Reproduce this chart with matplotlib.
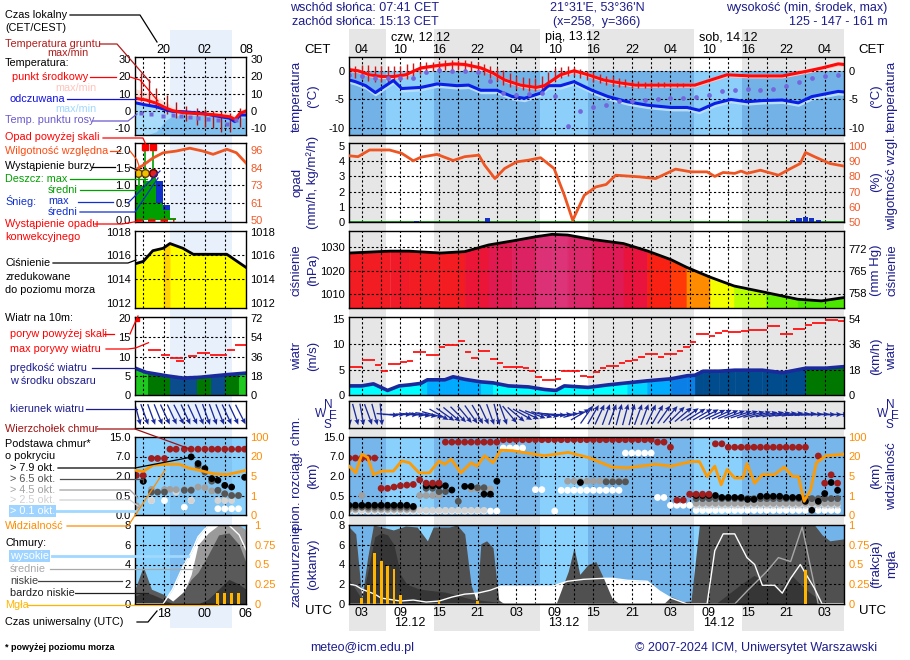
import numpy as np
import matplotlib
matplotlib.use("Agg")
import matplotlib.pyplot as plt
from matplotlib.colors import LinearSegmentedColormap, Normalize
from matplotlib.lines import Line2D

nan = np.nan

# ---------- main meteogram, hours after 00 UTC 12.12 ----------
day_spans = [(6.7, 14.2), (30.7, 38.2), (54.7, 62.2)]
tick_h = [3, 9, 15, 21, 27, 33, 39, 45, 51, 57, 63, 69, 75]
cet_labels = ['04', '10', '16', '22', '04', '10', '16', '22', '04', '10', '16', '22', '04']
utc_labels = ['03', '09', '15', '21', '03', '09', '15', '21', '03', '09', '15', '21', '03']
date_top = ['czw, 12.12', 'pią, 13.12', 'sob, 14.12']
date_bottom = ['12.12', '13.12', '14.12']

temp_h = [1, 2.4, 4.2, 6.1, 7.9, 9.8, 12.2, 14.7, 17.2, 19.0, 21.5, 23.4, 25.2, 27.7, 30.1, 31.4,
          33.9, 36.0, 38.2, 40.6, 43.1, 45.6, 50.5, 54.8, 57.3, 59.8, 63.5, 68.4, 72.1, 74.6, 77.1, 78]
temp = [0.2, 0.0, -0.7, -1.0, -1.0, -0.7, 0.5, 0.9, 1.2, 1.1, 0.5, -0.4, -1.6, -2.5, -2.9, -2.6,
        -0.7, 0.0, -0.7, -1.6, -2.1, -2.5, -2.5, -2.5, -1.6, -0.7, -0.9, -0.9, -0.1, 0.5, 1.2, 1.1]
feel_h = [1, 2.0, 3.6, 5.1, 6.7, 7.9, 9.2, 12.2, 14.7, 17.8, 19.6, 21.5, 24.0, 26.4, 28.3, 30.8, 32.0,
          33.9, 36.0, 38.8, 41.3, 44.3, 47.4, 51.1, 53.6, 55.5, 57.9, 60.4, 62.9, 65.3, 68.4, 70.9, 73.0, 77.1, 78]
feel = [-1.6, -1.9, -2.6, -3.8, -2.6, -1.7, -3.1, -2.9, -2.3, -2.6, -2.5, -3.4, -3.4, -4.5, -4.8, -3.9, -2.6,
        -2.6, -1.9, -3.4, -4.5, -5.4, -6.0, -6.4, -6.4, -6.9, -5.7, -5.0, -5.4, -5.2, -5.1, -5.6, -4.5, -3.6, -3.7]
dew_h = list(range(1, 78, 2))
dew = [-0.8, -1.0, -1.3, -1.3, -1.2, -1.2, -0.2, 0.1, 0.0, -0.1, -0.3, -1.8, -3.8, -4.2, -4.0, -3.9, -4.4,
       -9.6, -7.0, -6.3, -6.0, -5.3, -5.2, -5.1, -5.0, -4.8, -4.7, -4.6, -4.3, -3.6, -3.3, -3.2, -3.3,
       -3.2, -2.6, -2.0, -1.2, -0.9, -0.8]
ground_h = list(range(1, 54))
ground_max = [0.8, 0.9, 1.0, 1.0, 0.9, 0.8, 0.8, 0.8, 0.9, 1.1, 1.3, 1.4, 1.5, 1.6, 1.7, 1.8, 1.8, 1.8,
              1.8, 1.7, 1.5, 1.2, 0.8, 0.5, 0.2, -0.4, -0.9, -1.1, -1.2, -1.2, -1.0, -0.3, 0.4, 0.7,
              0.8, 0.6, 0.3, 0.0, -0.3, -0.6, -0.9, -1.0, -1.2, -1.5, -1.7, -1.8, -1.9, -2.0, -2.0,
              -2.0, -2.1, -2.1, -2.1]
ground_min = [-0.8, -1.2, -1.5, -1.7, -1.9, -2.0, -2.0, -1.9, -1.8, -1.4, -1.0, -0.6, -0.3, -0.1, 0.0,
              0.1, 0.2, 0.2, 0.1, -0.1, -0.3, -0.7, -1.2, -1.8, -2.4, -2.8, -3.2, -3.4, -3.6, -3.6, -3.5,
              -2.8, -1.8, -1.2, -0.9, -1.0, -1.2, -1.6, -2.0, -2.2, -2.4, -2.6, -2.8, -2.9, -3.0, -3.0,
              -3.0, -3.0, -2.9, -2.9, -2.9, -2.9, -2.9]

hum_h = [1, 2.4, 4.2, 7.3, 9.2, 11.0, 12.2, 14.7, 17.2, 19.0, 21.2, 22.1, 23.7, 25.2, 27.1, 28.9, 30.8,
         32.9, 34.5, 35.8, 37.6, 39.4, 41.0, 42.5, 46.2, 48.7, 51.8, 54.2, 56.7, 57.9, 59.2, 61.0, 62.0,
         62.9, 65.0, 67.8, 69.7, 71.2, 72.0, 73.4, 75.8, 78]
hum = [93.6, 93.0, 97.4, 97.4, 95.2, 90.3, 92.7, 94.5, 90.5, 93.0, 94.0, 87.4, 78.6, 85.2, 89.6, 90.7, 92.3,
       85.2, 67.6, 51.1, 67.6, 73.1, 74.7, 80.8, 79.7, 78.6, 84.8, 83.0, 83.0, 80.0, 82.6, 82.0, 83.5,
       82.0, 84.1, 80.8, 85.2, 88.5, 95.8, 93.0, 88.5, 86.8]
rain_h = [11.5, 22.5, 70, 71, 72, 73, 74]
rain = [0.08, 0.25, 0.12, 0.25, 0.35, 0.25, 0.1]

pres_h = [1, 7.3, 10.3, 15.3, 19.0, 22.7, 26.4, 30.1, 32.6, 35.0, 38.7, 43.7, 47.4, 51.1, 53.5, 57.2,
          60.9, 65.9, 70.8, 74.5, 78]
pres = [1027.4, 1028.2, 1028.2, 1027.4, 1028.0, 1030.8, 1032.5, 1034.3, 1035.3, 1035.0, 1033.2, 1031.4,
        1028.3, 1024.6, 1021.4, 1017.2, 1013.5, 1010.7, 1007.9, 1007.2, 1008.6]

wind_h = [1, 3.0, 4.8, 7.0, 8.8, 10.4, 12.2, 13.2, 15.9, 17.2, 19.0, 21.5, 23.4, 25.8, 28.9, 31.4, 33.2,
          34.5, 38.2, 41.3, 44.3, 47.4, 51.1, 53.6, 54.8, 56.1, 58.6, 61.0, 65.3, 68.4, 72.1, 75.2, 78]
wind = [1.8, 1.8, 2.2, 0.9, 1.8, 2.0, 2.3, 3.0, 3.0, 3.6, 3.1, 2.6, 2.4, 1.8, 1.6, 1.1, 0.9,
        1.8, 1.5, 2.0, 2.4, 2.8, 3.2, 3.8, 3.9, 4.7, 4.7, 4.9, 4.9, 4.4, 5.3, 5.3, 5.6]
gust_h = list(range(1, 78))
gust = [5.6, 5.6, 6.9, 6.9, 5.9, 4.8, 6.1, 6.1, 6.6, 6.8, 8.4, 8.4, 7.9, 7.9, 9.4, 9.9, 9.9, 10.7, 8.4, 7.4,
        8.7, 8.7, 7.2, 6.4, 5.5, 5.5, 5.5, 5.3, 4.7, 3.5, 3.0, 3.0, 3.1, 4.7, 4.7, 4.7, 3.8, 3.5, 4.5, 5.3,
        5.8, 5.8, 6.3, 6.7, 7.0, 7.6, 8.1, 8.1, 7.6, 8.1, 8.1, 8.6, 9.4, 10.4, 12.0, 12.0, 11.6, 12.2, 12.6,
        12.4, 12.4, 12.6, 12.8, 12.8, 12.8, 13.6, 13.6, 12.0, 12.0, 13.0, 13.0, 13.9, 14.3, 14.3, 14.8, 14.8, 14.6]
wdir_h = list(range(1, 78))
wdir = [355, 345, 350, 340, 345, 355,
        275, 270, 270, 272, 275, 278, 280, 285,
        300, 305, 310, 315, 320, 325, 330, 335, 340, 345, 340,
        320, 310, 300, 295, 290, 285, 280, 275,
        270, 265, 255, 240,
        215, 210, 205, 200, 200, 195, 195, 195, 200, 200, 205, 210, 215,
        220, 225, 230, 235, 238, 240, 242, 245, 245, 248,
        250, 252, 252, 255, 255, 258, 258, 260, 262, 262, 265, 265, 268, 268, 270, 270, 270]

# cloud base / top dots: (first hour, last hour, km)
top_runs = [(1, 5, 6.6), (6, 7, 1.05), (8, 8, 1.15), (9, 9, 1.25), (10, 10, 1.3), (11, 11, 1.35), (12, 12, 1.7),
            (13, 15, 1.45), (16, 24, 12.9), (25, 48, 13.9), (49, 50, 12.9), (51, 51, 10.8), (52, 53, 0.38),
            (54, 57, 0.6), (58, 59, 12.2), (60, 72, 10.8), (74, 74, 7.2), (75, 75, 1.45), (76, 76, 2.3), (77, 77, 1.45)]
k79_runs = [(1, 10, 0.25), (11, 11, 0.22), (13, 16, 1.25), (17, 17, 0.92), (19, 20, 1.2), (22, 23, 0.6),
            (24, 24, 1.6), (37, 37, 1.5), (55, 58, 0.5), (59, 62, 0.45), (63, 64, 0.4), (65, 68, 0.48),
            (69, 71, 0.45), (72, 72, 0.35), (73, 73, 0.12), (74, 74, 0.35), (75, 75, 0.65), (76, 76, 1.5), (77, 77, 0.9)]
k65_runs = [(1, 11, 0.2), (13, 14, 1.05), (15, 16, 0.8), (18, 18, 0.35), (21, 22, 1.1), (41, 44, 1.55), (55, 77, 0.42)]
k45_runs = [(1, 2, 0.15), (3, 3, 0.5), (4, 11, 0.15), (12, 15, 0.5), (20, 23, 1.0), (35, 44, 1.6), (55, 77, 0.3)]
k25_runs = [(1, 22, 0.12), (55, 77, 0.25)]
k01_runs = [(1, 24, 0.1), (25, 28, 10.5), (30, 31, 0.95), (33, 33, 0.1), (34, 43, 0.9), (44, 48, 8.4),
            (49, 50, 0.45), (51, 54, 0.25), (55, 77, 0.12)]
vis_h = [1, 2.05, 3.0, 3.9, 4.8, 6.1, 7.9, 9.2, 10.4, 11.9, 13.5, 15.0, 15.9, 16.9, 18.4, 20.0, 20.9, 22.1,
         23.4, 24.6, 26.4, 31.4, 35.1, 38.2, 41.9, 44.3, 48.7, 51.1, 54.2, 55.5, 56.7, 57.9, 58.9, 59.8, 61.0,
         62.3, 62.9, 64.1, 65.3, 67.2, 68.7, 70.0, 70.9, 71.8, 72.8, 73.7, 75.2, 78]
vis = [12.6, 7.4, 29.6, 19.3, 6.1, 8.8, 8.8, 16.6, 15.2, 7.4, 7.4, 16.6, 14.0, 17.9, 7.4, 15.2, 12.6, 23.2,
       15.2, 46.0, 44.0, 23.2, 37.0, 19.3, 11.9, 11.3, 14.0, 12.6, 16.1, 16.1, 4.9, 12.6, 3.2, 10.0, 4.6,
       4.6, 14.5, 3.5, 6.1, 6.1, 11.9, 4.9, 4.9, 0.7, 2.1, 15.2, 23.2, 29.6]

# cloud cover (oktas) and fog (fraction)
high_h = [1, 2, 3, 5, 6, 7, 9, 11, 13, 15, 17, 19, 21, 23, 24.6, 26, 32.6, 35, 37.5, 40.6, 42, 44.3, 47.4,
          49.3, 51.1, 53.6, 56.7, 57.9, 59.2, 61, 62.9, 64.1, 65.3, 67.2, 68.4, 69.7, 71.2, 72.1, 73.4, 74.6, 78]
high = [2.0, 1.9, 1.5, 1.0, 0.6, 0.5, 0.3, 0.4, 0.2, 0.3, 0.7, 1.0, 1.1, 1.4, 1.8, 1.8, 1.8, 2.3, 2.5, 2.6,
        2.6, 2.4, 2.3, 1.3, 0.6, 0, 0, 5.4, 7.1, 7.1, 4.7, 4.0, 1.9, 1.9, 1.1, 2.6, 4.0, 3.0, 1.6, 0, 0]
mid_h = [1, 60, 61, 62.9, 66, 67.8, 69.7, 71.5, 72.8, 74, 78]
mid = [0, 0, 0, 1.3, 3.3, 4.7, 4.3, 7.8, 3.7, 0, 0]
low_h = [1, 2.05, 3.0, 3.9, 4.8, 6.1, 7.9, 9.8, 11.6, 13.2, 14.1, 16.6, 17.8, 19.0, 20.0, 20.9, 21.5, 22.4,
         23.4, 24.3, 25.2, 33.2, 35.1, 36.0, 36.9, 38.2, 39.4, 40.6, 41.9, 43.1, 49.9, 51.1, 53.0, 54.2,
         55.5, 73.4, 74.6, 75.8, 78]
low = [7.8, 7.1, 0.6, 4.7, 8.0, 7.8, 7.5, 7.9, 7.8, 6.4, 7.8, 7.8, 8.0, 7.1, 1.9, 0.2, 6.1, 6.4, 5.7, 0.4,
       0, 0, 3.3, 5.7, 3.0, 4.0, 4.3, 2.6, 0.6, 0, 0, 0.75, 0.24, 0.3, 8.0, 8.0, 7.0, 6.4, 6.6]
vlow_h = [1, 2, 3, 4, 5, 6, 7, 8, 9, 10, 12, 16, 20, 24, 25, 58, 60, 62, 64, 66, 68, 70, 72, 74, 75, 78]
vlow = [2.5, 1.5, 0.5, 3.5, 6.8, 7.2, 7.0, 6.0, 3.0, 2.0, 1.5, 1.2, 0.5, 0.2, 0, 0, 1.0, 2.0, 2.9, 2.2,
        1.5, 2.8, 1.5, 0.5, 0, 0]
fog_h = [3, 4, 5, 6, 7, 8, 9, 15, 21, 72]
fog = [0.07, 0.24, 0.65, 0.54, 0.48, 0.44, 0.12, 0.04, 0.04, 0.43]

# ---------- legend column, hours CET ----------
leg_band = (20.9, 29.9)
leg_top_labels = ['20', '02', '08']
leg_bottom_labels = ['18', '00', '06']
leg_tick_h = [20, 26, 32]
lt_h = [15.8, 17.4, 18.9, 20.4, 21.3, 22.8, 25.7, 27.7, 29.6, 30.4, 31.1, 32.0]
lt_temp = [7.4, 6.4, 4.5, 1.6, 0.2, -1.0, -1.7, -2.3, -3.3, -4.8, -1.4, 0.0]
lt_feel = [4.8, 3.5, 2.5, 0.6, -0.2, -0.4, -1.4, -2.9, -4.2, -6.2, -2.3, -2.3]
lt_tmax = [13.0, 11.0, 8.5, 5.0, 2.5, 1.0, 0.5, 0.0, -1.0, -2.5, 0.5, 2.0]
lt_fmin = [-14, -14, -12, -5, -3, -2.5, -2.5, -3.5, -5, -7, -4, -4]
lt_dew_h = [16.7, 18.2, 19.9, 21.3, 22.5, 23.8, 25.0, 26.5, 27.9, 29.2, 30.6]
lt_dew = [-1.4, -1.9, -2.7, -2.3, -3.1, -3.5, -4.0, -4.6, -5.3, -7.3, -5.0]
lg_h = [16.7, 17.8, 18.9, 20.4, 21.8, 23.3, 24.8, 26.0, 27.2, 28.4, 29.6, 31.1]
lg_max = [22.0, 18.5, 13.5, 9.0, 5.0, 3.0, 2.0, 1.0, 0.0, 0.0, -1.0, 2.0]
lg_min = [6.0, 3.0, 1.0, -2.0, -4.0, -6.0, -8.0, -9.0, -10.0, -12.0, -12.0, -9.0]
lhum_h = [15.8, 17.0, 18.4, 19.9, 21.8, 23.8, 25.7, 27.2, 29.2, 30.6, 32.0]
lhum = [82.9, 86.1, 90.7, 94.2, 95.3, 97.2, 95.3, 93.2, 96.5, 94.2, 87.5]
lrain_edges = [15.8, 17.0, 18.2, 18.9, 19.9, 20.9, 21.8]
lrain = [0.97, 1.12, 1.2, 0.5, 0.28, 0.05]
lsnow_h = [18.9, 19.9]
lsnow_top = [1.13, 0.42]
lsnow_bot = [0.5, 0.28]
lrainmax_h = [16.4, 17.3, 18.4]
lrainmax = [1.45, 2.05, 2.05]
lstorm_h = [16.2, 17.3, 18.4]
lstorm = [1.35, 1.35, 1.35]
lover_h = [17.3, 18.4]
lconv = (15.8, 21.5)
lp_h = [15.8, 17.0, 18.4, 19.9, 20.9, 22.8, 24.3, 29.2, 32.0]
lp = [1015.3, 1015.5, 1016.4, 1016.6, 1017.0, 1016.6, 1016.1, 1016.1, 1015.0]
lw_h = [15.8, 17.4, 20.4, 22.8, 25.2, 29.2, 32.0]
lw = [7.0, 5.9, 5.0, 4.4, 4.6, 5.3, 5.7]
lw_edges = [15.8, 17.7, 20.9, 24.8, 26.9, 29.0, 31.0, 32.0]
lgust_start = [17.7, 19.6, 20.9, 21.8, 23.5, 24.8, 26.7, 29.2, 30.4]
lgust_end = [19.6, 20.9, 22.8, 23.0, 24.8, 26.7, 29.2, 30.4, 32.0]
lgust = [11.6, 10.5, 9.6, 8.8, 10.1, 11.0, 10.5, 11.8, 12.9]
ldir_h = [16.2, 17.2, 18.2, 19.2, 20.2, 21.2, 22.2, 23.2, 24.2, 25.2, 26.2, 27.2, 28.2, 29.2, 30.2, 31.2]
ldir = [345, 340, 340, 338, 335, 335, 333, 335, 335, 338, 340, 340, 338, 335, 335, 333]
lcb_h = [16.0, 17.0, 18.2, 19.1, 20.1, 20.9, 21.8, 23.0, 24.0, 25.0, 26.0, 27.0, 27.9, 28.9, 29.9, 30.9, 31.8]
lc_top = [2.15, 2.15, 6.5, 6.5, 6.5, 10, 10, 10, 10, 10, 10, 10, 10, 10, 10, 10, 10]
lc_k79 = [nan, 1.6, nan, nan, nan, nan, nan, nan, 6.9, 5.2, 3.9, 1.8, 1.67, 1.28, 1.15, nan, 1.9]
lc_k65 = [nan, 1.6, 0.76, 0.76, 0.76, nan, nan, 0.9, 0.9, 4.6, 3.0, 1.6, 0.9, 0.63, 0.5, 0.5, nan]
lc_k45 = [0.24, nan, 0.97, nan, 0.95, 0.97, 0.95, 0.95, 0.95, 1.15, 1.1, 0.85, 0.85, 0.63, 0.5, 0.5, nan]
lc_k25 = [0.24, nan, 0.37, nan, nan, nan, 0.75, nan, 0.37, nan, nan, nan, 0.37, 0.37, 0.37, nan, nan]
lc_k01 = [nan, nan, 0.37, nan, 0.37, nan, nan, 0.2, 0.37, nan, nan, nan, 0.16, 0.16, 0.16, 0.16, nan]
lv_h = [15.8, 17.0, 18.4, 20.4, 22.3, 23.6, 25.2, 27.2, 29.2, 31.1, 32.0]
lvis = [9.4, 8.6, 13.3, 14.0, 14.0, 11.2, 9.4, 6.8, 6.1, 8.2, 9.4]
lcc_h = [15.8, 17.0, 18.2, 19.9, 21.3, 22.8, 24.0, 25.0, 26.5, 28.0, 29.5, 31.0, 32.0]
lc_high = [0, 0, 0, 0, 1.5, 3.8, 5.2, 6.8, 8, 8, 8, 7, 5.5]
lc_mid = [0, 0, 0, 0, 0, 1.0, 3.0, 6.0, 7.2, 8, 8, 8, 7.5]
lc_low = [1.5, 3.8, 1.5, 1.0, 0.3, 1.2, 2.5, 3.2, 5.0, 7.0, 7.2, 6.0, 4.2]
lc_vlow = [0.8, 1.2, 1.0, 0.5, 0, 0, 0, 0, 0.5, 1.5, 2.5, 2.0, 1.5]
lfog_h = [27.9, 28.9, 29.9, 30.9]
lfog = [0.14, 0.14, 0.14, 0.14]

# ---------- figure ----------
W, H = 910, 660
NAVY = '#1c1c8c'
TICK = 8
LEG = 7.8
plt.rcParams['font.family'] = ['Liberation Sans', 'DejaVu Sans']
fig = plt.figure(figsize=(W / 100, H / 100), dpi=100)

MX0, MX1 = 349, 844
LX0, LX1 = 135, 246
MXL, LXL = (1, 78), (15.8, 32)
ROW = {'temp': (57, 135), 'prec': (143, 222), 'pres': (231, 308), 'wind': (317, 395),
       'dir': (401, 428), 'base': (437, 515), 'cover': (525, 604)}
grid_h = list(range(3, 78, 3))
lgrid_h = [17, 20, 23, 26, 29]
KM = [0, 0.5, 2, 7, 15]
VIS = [0, 1, 5, 20, 100]
POS = [0, 1, 2, 3, 4]
km_scale = (lambda v: np.interp(v, KM, POS), lambda p: np.interp(p, POS, KM))
vis_scale = (lambda v: np.interp(v, VIS, POS), lambda p: np.interp(p, POS, VIS))
GRAY_NIGHT = '#e6e6e6'


def px_axes(x0, y0, x1, y1):
    return fig.add_axes([x0 / W, 1 - y1 / H, (x1 - x0) / W, (y1 - y0) / H])


def ftext(x, y, s, color='black', size=LEG, ha='left', **kw):
    return fig.text(x / W, 1 - y / H, s, color=color, fontsize=size, ha=ha, va='center', **kw)


def lead(color, *pts, lw=0.9):
    fig.add_artist(Line2D([p[0] / W for p in pts], [1 - p[1] / H for p in pts], color=color, lw=lw))


def panel(x0, x1, row, xlim, ylim, gx, gy, yscale=None):
    y0, y1 = ROW[row]
    ax = px_axes(x0, y0, x1, y1)
    ax.set_facecolor('none')
    if yscale:
        ax.set_yscale('function', functions=yscale)
    ax.set_xlim(xlim)
    ax.set_ylim(ylim)
    for x in gx:
        ax.axvline(x, color='black', lw=0.8, ls=(0, (2, 2)), zorder=3)
    for y in gy:
        ax.axhline(y, color='black', lw=0.8, ls=(0, (2, 2)), zorder=3)
    ax.set_xticks([])
    ax.set_yticks([])
    ax.tick_params(length=0, labelsize=TICK, pad=3)
    for s in ax.spines.values():
        s.set_linewidth(1.0)
        s.set_zorder(8)
    return ax


def twin(ax, ylim, ticks, labels, color, yscale=None, pad=3):
    a2 = ax.twinx()
    if yscale:
        a2.set_yscale('function', functions=yscale)
    a2.set_ylim(ylim)
    a2.set_yticks(ticks, labels)
    a2.tick_params(length=0, labelsize=TICK, pad=pad, labelcolor=color)
    for s in a2.spines.values():
        s.set_visible(False)
    return a2


def shade(ax, lo, hi, night, day, xlim=MXL, spans=day_spans):
    ax.fill_between(xlim, lo, hi, color=night, lw=0, zorder=0.5)
    for a, b in spans:
        ax.fill_between([a, b], lo, hi, color=day, lw=0, zorder=0.6)


def runs_xy(runs):
    hs = [h for a, b, v in runs for h in range(a, b + 1)]
    vs = [v for a, b, v in runs for h in range(a, b + 1)]
    return hs, vs


def arrows(ax, hs, dirs, length=22):
    d = np.radians(dirs)
    ax.quiver(hs, np.full(len(hs), 0.5), -np.sin(d) * length, -np.cos(d) * length,
              angles='uv', scale_units='dots', scale=1, pivot='middle', units='dots', width=1.3,
              headwidth=4, headlength=4.5, headaxislength=4, color='#1a2a9c', zorder=4)


# background day/night column and legend band
bg = px_axes(MX0, 29, MX1, 631)
bg.set_xlim(MXL)
bg.axis('off')
bg.axvspan(*MXL, color=GRAY_NIGHT, lw=0)
for a, b in day_spans:
    bg.axvspan(a, b, color='white', lw=0)
lb = px_axes(LX0, 30, LX1, 628)
lb.set_xlim(LXL)
lb.axis('off')
lb.axvspan(*leg_band, color='#e8f0fb', lw=0)

# ----- main temperature -----
ax = panel(MX0, MX1, 'temp', MXL, (-11.2, 2.4), grid_h, [0, -5, -10])
shade(ax, -11.2, 0, '#72b2e6', '#8ccffa')
ax.fill_between(feel_h, np.array(feel) - 0.6, np.array(feel) + 0.15, color='#b8e0fc', lw=0, zorder=1)
ax.fill_between(temp_h, np.array(temp) - 0.35, np.array(temp) + 0.35, color='#ffc4c0', lw=0, zorder=1.1)
ax.vlines(ground_h, ground_min, ground_max, color='#d01818', lw=1.0, zorder=4)
ax.plot(feel_h, feel, color='#0a1ee6', lw=2.2, zorder=5)
ax.plot(temp_h, temp, color='#ff0a0a', lw=2.2, zorder=5)
ax.plot(dew_h, dew, ls='none', marker='o', ms=3.4, color='#7466dc', mec='none', zorder=5)
ax.set_yticks([0, -5, -10], ['0', '-5', '-10'])
ax.tick_params(axis='y', labelright=True)
ax.set_xticks(tick_h, cet_labels)
ax.tick_params(axis='x', length=0, labelsize=9, bottom=False, labelbottom=False, labeltop=True, pad=1)
for (a, b), lab in zip(day_spans, date_top):
    ax.text(a + 0.8, 1.255, lab, transform=ax.get_xaxis_transform(), fontsize=9, va='center')

# ----- main precipitation / humidity -----
ax = panel(MX0, MX1, 'prec', MXL, (0, 5.2), grid_h, [1, 2, 3, 4])
ax.axhline(0, color='#00a000', lw=1.2, zorder=4)
ax.bar(rain_h, rain, width=0.8, color='#1430c8', zorder=4)
ax.set_yticks([0, 1, 2, 3, 4, 5], ['0', '1', '2', '3', '4', '5'])
a2 = twin(ax, (50, 102), [50, 60, 70, 80, 90, 100], ['50', '60', '70', '80', '90', '100'], '#f05a28')
a2.plot(hum_h, hum, color='#ee5522', lw=2)

# ----- main pressure -----
p_lo, p_hi = 1004.2, 1036.7
pcmap = LinearSegmentedColormap.from_list('pres', [
    (0.0, '#20d800'), (0.13, '#60ee00'), (0.2, '#a0ff00'), (0.27, '#d8ff00'), (0.36, '#ffff00'),
    (0.42, '#ffb000'), (0.5, '#ff6a00'), (0.58, '#ff3a08'), (0.7, '#f82014'), (0.8, '#e8143c'),
    (0.9, '#dc1c5c'), (1.0, '#dc3c84')])
pnorm = Normalize(1005, 1036)
ax = panel(MX0, MX1, 'pres', MXL, (p_lo, p_hi), grid_h, [1010, 1020, 1030])
for i in range(len(pres_h) - 1):
    c = pcmap(pnorm((pres[i] + pres[i + 1]) / 2))
    ax.fill_between(pres_h[i:i + 2], p_lo, pres[i:i + 2], color=c, ec=c, lw=0.5, zorder=1)
ax.plot(pres_h, pres, color='black', lw=2, zorder=5)
ax.set_yticks([1010, 1020, 1030], ['1010', '1020', '1030'])
twin(ax, (p_lo * 0.750062, p_hi * 0.750062), [758, 765, 772], ['758', '765', '772'], 'black')

# ----- main wind -----
wind_bins = [2.3, 2.8, 3.4, 4.2, 5.1, 6.5]
wind_cols = ['#00ffff', '#00d4ff', '#00aaff', '#0a80e6', '#004c8c', '#007800', '#1ec81e']
ax = panel(MX0, MX1, 'wind', MXL, (0, 15.4), grid_h, [5, 10])
for i in range(len(wind_h) - 1):
    c = wind_cols[int(np.searchsorted(wind_bins, (wind[i] + wind[i + 1]) / 2))]
    ax.fill_between(wind_h[i:i + 2], 0, wind[i:i + 2], color=c, ec=c, lw=0.5, zorder=1)
ax.plot(wind_h, wind, color='#1a2a9c', lw=2.6, zorder=5)
ax.hlines(gust, gust_h, np.array(gust_h) + 1, color='#ff1010', lw=1.3, zorder=5)
ax.set_yticks([0, 5, 10, 15], ['0', '5', '10', '15'])
twin(ax, (0, 15.4 * 3.6), [0, 18, 36, 54], ['0', '18', '36', '54'], 'black')

# ----- main wind direction -----
ax = panel(MX0, MX1, 'dir', MXL, (0, 1), grid_h, [])
arrows(ax, wdir_h, wdir)

# ----- main cloud base -----
ax = panel(MX0, MX1, 'base', MXL, (0, 15), grid_h, [0.5, 2, 7], yscale=km_scale)
shade(ax, 0, 15, '#76b6ea', '#8ad0fc')
for runs, col in [(k01_runs, 'white'), (k25_runs, '#d4d4d4'), (k45_runs, '#a0a0a0'),
                  (k65_runs, '#555555'), (k79_runs, 'black'), (top_runs, '#a01e1e')]:
    hs, vs = runs_xy(runs)
    ax.scatter(hs, vs, s=24, color=col, edgecolors='none', zorder=5)
ax.set_yticks(KM, ['0.0', '0.5', '2.0', '7.0', '15.0'])
a2 = twin(ax, (0, 100), VIS, ['0', '1', '5', '20', '100'], '#ff8c00', yscale=vis_scale)
a2.plot(vis_h, vis, color='#ff9a00', lw=2)

# ----- main cloud cover -----
ax = panel(MX0, MX1, 'cover', MXL, (0, 8), grid_h, [2, 4, 6])
shade(ax, 0, 8, '#72b4ea', '#8ad2fe')
ax.fill_between(high_h, 0, high, color='white', lw=0, zorder=1)
ax.fill_between(mid_h, 0, mid, color='#9a9a9a', lw=0, zorder=1.1)
ax.fill_between(low_h, 0, low, color='#505050', lw=0, zorder=1.2)
ax.fill_between(vlow_h, 0, vlow, color='#363636', lw=0, zorder=1.3)
ax.plot(mid_h, mid, color='#a8a8a8', lw=1, zorder=4)
ax.plot(high_h, high, color='white', lw=1, zorder=4)
ax.set_yticks([0, 2, 4, 6, 8], ['0', '2', '4', '6', '8'])
ax.set_xticks(tick_h, utc_labels)
ax.tick_params(axis='x', length=0, labelsize=9, pad=2)
for (a, b), lab in zip(day_spans, date_bottom):
    ax.text((a + b) / 2, -0.245, lab, transform=ax.get_xaxis_transform(), fontsize=9, ha='center', va='center')
a2 = twin(ax, (0, 1), [0, 0.25, 0.5, 0.75, 1], ['0', '0.25', '0.5', '0.75', '1'], '#ff8c00')
a2.bar(fog_h, fog, width=0.45, color='#ffb400', zorder=5)

# ----- legend column panels -----
ax = panel(LX0, LX1, 'temp', LXL, (-13.9, 31.3), lgrid_h, [20, 10, 0, -10])
ax.fill_between(lt_h, lt_feel, lt_tmax, color='#fde0da', lw=0, zorder=1)
ax.fill_between(lt_h, -13.9, lt_feel, color='#a8dcfa', lw=0, zorder=1)
ax.fill_between(lt_h, -13.9, lt_fmin, color='#80c0ee', lw=0, zorder=1.1)
ax.vlines(lg_h, lg_min, lg_max, color='#a81818', lw=1.0, zorder=4)
ax.plot(lt_h, lt_feel, color='#0a1ee6', lw=2.2, zorder=5)
ax.plot(lt_h, lt_temp, color='#ff0a0a', lw=2.2, zorder=5)
ax.plot(lt_dew_h, lt_dew, ls='none', marker='s', ms=3.2, color='#7466dc', mec='none', zorder=5)
ax.set_yticks([30, 20, 10, 0, -10], ['30', '20', '10', '0', '-10'])
ax.tick_params(axis='y', labelright=True)
ax.set_xticks(leg_tick_h, leg_top_labels)
ax.tick_params(axis='x', length=0, labelsize=9, bottom=False, labelbottom=False, labeltop=True, pad=1)

ax = panel(LX0, LX1, 'prec', LXL, (-0.05, 2.2), lgrid_h, [0.5, 1.0, 1.5])
ax.stairs(lrain, lrain_edges, fill=True, color='#00a000', zorder=2)
ax.bar(lsnow_h, np.array(lsnow_top) - np.array(lsnow_bot), width=1.0, bottom=lsnow_bot, align='edge',
       color='#1030c8', zorder=2.1)
ax.vlines(lrainmax_h, 0.9, lrainmax, color='#00a000', lw=1.2, zorder=4)
ax.plot(lstorm_h, lstorm, ls='none', marker='o', ms=5.5, mfc='#f0c000', mec='#604000', zorder=6)
ax.plot(lstorm_h[-1:], lstorm[-1:], ls='none', marker='o', ms=5.5, mfc='#e02020', mec='#600000', zorder=6)
ax.plot(lover_h, [2.08, 2.08], ls='none', marker='s', ms=4, color='#ff0000', zorder=6)
ax.hlines(0, *lconv, color='#ff0000', lw=1.8, ls=(0, (3, 2)), zorder=6)
ax.set_yticks([0, 0.5, 1, 1.5, 2], ['0.0', '0.5', '1.0', '1.5', '2.0'])
a2 = twin(ax, (50 - 0.05 * 23, 50 + 2.2 * 23), [50, 61.5, 73, 84.5, 96], ['50', '61', '73', '84', '96'], '#f05a28')
a2.plot(lhum_h, lhum, color='#ee5522', lw=2)

ax = panel(LX0, LX1, 'pres', LXL, (1011.6, 1018.05), lgrid_h, [1014, 1016])
ax.fill_between(lp_h, 1011.6, lp, color='#ffff00', lw=0, zorder=1)
ax.fill_between(lp_h[3:5], 1011.6, lp[3:5], color='#ffd200', lw=0, zorder=1.1)
ax.plot(lp_h, lp, color='black', lw=2, zorder=5)
ax.set_yticks([1012, 1014, 1016, 1018], ['1012', '1014', '1016', '1018'])
ax.tick_params(axis='y', labelright=True)

ax = panel(LX0, LX1, 'wind', LXL, (0, 20.3), lgrid_h, [5, 10, 15])
poly = ax.fill_between(lw_h, 0, lw, color='none', lw=0)
for (a, b), c in zip(zip(lw_edges[:-1], lw_edges[1:]),
                     ['#1ec81e', '#007800', '#0a4c8c', '#007800', '#0a4c8c', '#007800', '#1ec81e']):
    r = ax.axvspan(a, b, color=c, lw=0, zorder=1)
    r.set_clip_path(poly.get_paths()[0], ax.transData)
ax.plot(lw_h, lw, color='#1a2a9c', lw=2.6, zorder=5)
ax.hlines(lgust, lgust_start, lgust_end, color='#ff1010', lw=1.3, zorder=5)
ax.plot([16.1], [19.8], ls='none', marker='s', ms=3.5, color='#ff0000', zorder=6)
ax.set_yticks([0, 5, 10, 15, 20], ['0', '5', '10', '15', '20'])
twin(ax, (0, 20.3 * 3.6), [0, 18, 36, 54, 72], ['0', '18', '36', '54', '72'], 'black')

ax = panel(LX0, LX1, 'dir', LXL, (0, 1), lgrid_h, [])
arrows(ax, ldir_h, ldir)

ax = panel(LX0, LX1, 'base', LXL, (0, 15), lgrid_h, [0.5, 2, 7], yscale=km_scale)
shade(ax, 0, 15, '#80c4f4', '#8ad0fc', xlim=LXL, spans=[(LXL[0], leg_band[0]), (leg_band[1], LXL[1])])
for vals, col in [(lc_k01, 'white'), (lc_k25, '#d4d4d4'), (lc_k45, '#a0a0a0'),
                  (lc_k65, '#555555'), (lc_k79, 'black'), (lc_top, '#a01e1e')]:
    ax.scatter(lcb_h, vals, s=24, color=col, edgecolors='none', zorder=5)
ax.set_yticks(KM, ['0.0', '0.5', '2.0', '7.0', '15.0'])
a2 = twin(ax, (0, 100), VIS, ['0', '1', '5', '20', '100'], '#ff8c00', yscale=vis_scale)
a2.plot(lv_h, lvis, color='#ff9a00', lw=2)

ax = panel(LX0, LX1, 'cover', LXL, (0, 8), lgrid_h, [2, 4, 6])
shade(ax, 0, 8, '#7cbcf0', '#8ad2fe', xlim=LXL, spans=[(LXL[0], leg_band[0]), (leg_band[1], LXL[1])])
ax.fill_between(lcc_h, 0, lc_high, color='white', lw=0, zorder=1)
ax.fill_between(lcc_h, 0, lc_mid, color='#9a9a9a', lw=0, zorder=1.1)
ax.fill_between(lcc_h, 0, lc_low, color='#5a5a5a', lw=0, zorder=1.2)
ax.fill_between(lcc_h, 0, lc_vlow, color='#363636', lw=0, zorder=1.3)
ax.plot(lcc_h, lc_high, color='white', lw=1, zorder=4)
ax.set_yticks([0, 2, 4, 6, 8], ['0', '2', '4', '6', '8'])
ax.set_xticks(leg_tick_h, leg_bottom_labels)
ax.tick_params(axis='x', length=0, labelsize=9, pad=3)
a2 = twin(ax, (0, 1), [0, 0.25, 0.5, 0.75, 1], ['0', '0.25', '0.5', '0.75', '1'], '#ff8c00', pad=6)
a2.bar(lfog_h, lfog, width=0.45, color='#ffb400', zorder=5)

# ----- header / footer -----
ftext(290, 8, 'wschód słońca: 07:41 CET', NAVY, 9)
ftext(292, 22, 'zachód słońca: 15:13 CET', NAVY, 9)
ftext(597, 8, "21°31'E, 53°36'N", NAVY, 9, 'center')
ftext(597, 22, '(x=258,  y=366)', NAVY, 9, 'center')
ftext(887, 8, 'wysokość (min, środek, max)', NAVY, 9, 'right')
ftext(838, 22, '125 - 147 - 161 m', NAVY, 9, 'center')
ftext(318, 50, 'CET', 'black', 9.5, 'center')
ftext(872, 50, 'CET', 'black', 9.5, 'center')
ftext(318, 611, 'UTC', 'black', 9.5, 'center')
ftext(872, 611, 'UTC', 'black', 9.5, 'center')
ftext(310, 648, 'meteo@icm.edu.pl', NAVY, 9)
ftext(877, 648, '© 2007-2024 ICM, Uniwersytet Warszawski', NAVY, 9, 'right')

# ----- axis titles -----
AX = 9.5
for yc, l1, l2, r1, r2 in [(96, 'temperatura', '(°C)', '(°C)', 'temperatura'),
                           (182, 'opad', '(mm/h, kg/m²/h)', '(%)', 'wilgotność wzgl.'),
                           (270, 'ciśnienie', '(hPa)', '(mm Hg)', 'ciśnienie'),
                           (356, 'wiatr', '(m/s)', '(km/h)', 'wiatr')]:
    ftext(297, yc, l1, NAVY, AX, 'center', rotation=90)
    ftext(313, yc, l2, NAVY, AX, 'center', rotation=90)
    ftext(876, yc, r1, NAVY, AX, 'center', rotation=90)
    ftext(892, yc, r2, NAVY, AX, 'center', rotation=90)
ftext(297, 566, 'zachmurzenie', NAVY, AX, 'center', rotation=90)
ftext(297, 473, 'pion. rozciągł. chm.', NAVY, AX, 'center', rotation=90)
ftext(313, 564, '(oktanty)', NAVY, AX, 'center', rotation=90)
ftext(313, 476, '(km)', NAVY, AX, 'center', rotation=90)
ftext(876, 476, '(km)', NAVY, AX, 'center', rotation=90)
ftext(892, 476, 'widzialność', NAVY, AX, 'center', rotation=90)
ftext(876, 564, '(frakcja)', NAVY, AX, 'center', rotation=90)
ftext(892, 564, 'mgła', NAVY, AX, 'center', rotation=90)
for cx in (327, 889):
    ftext(cx + 1, 405, 'N', NAVY, 8.5, 'center')
    ftext(cx - 6, 414, 'W', NAVY, 8.5, 'center')
    ftext(cx + 6, 416, 'E', NAVY, 8.5, 'center')
    ftext(cx, 425, 'S', NAVY, 8.5, 'center')

# ----- legend texts and leader lines -----
DKRED, RED, GRN, BLU, ORG = '#b01c1c', '#ff0000', '#00a000', '#1030d0', '#ff4a10'
ftext(5, 15, 'Czas lokalny')
ftext(5, 28, '(CET/CEST)')
ftext(5, 44, 'Temperatura gruntu', DKRED)
ftext(47, 53, 'max/min', DKRED)
ftext(5, 63, 'Temperatura:')
ftext(12, 77, 'punkt środkowy', RED)
ftext(55, 88, 'max/min', '#ffc4bc')
ftext(10, 99, 'odczuwana', '#1010e0')
ftext(55, 109, 'max/min', '#a0d8ff')
ftext(5, 120, 'Temp. punktu rosy', '#6a5acd')
ftext(5, 137, 'Opad powyżej skali', RED)
ftext(5, 151, 'Wilgotność względna', ORG)
ftext(5, 166, 'Wystąpienie burzy')
ftext(5, 179, 'Deszcz: max', GRN)
ftext(48, 190, 'średni', GRN)
ftext(5, 201, 'Śnieg:', BLU)
ftext(48, 201, 'max', BLU)
ftext(48, 212, 'średni', BLU)
ftext(5, 224, 'Wystąpienie opadu', RED)
ftext(5, 237, 'konwekcyjnego', RED)
ftext(5, 263, 'Ciśnienie')
ftext(5, 277, 'zredukowane')
ftext(5, 290, 'do poziomu morza')
ftext(5, 318, 'Wiatr na 10m:')
ftext(10, 334, 'poryw powyżej skali', RED)
ftext(10, 349, 'max porywy wiatru', RED)
ftext(10, 368, 'prędkość wiatru', NAVY)
ftext(10, 381, 'w środku obszaru', NAVY)
ftext(10, 409, 'kierunek wiatru', NAVY)
ftext(5, 429, 'Wierzchołek chmur', '#a01010')
ftext(5, 444, 'Podstawa chmur*')
ftext(5, 456, 'o pokryciu')
ftext(10, 468, '> 7.9 okt.')
ftext(10, 479, '> 6.5 okt.', '#505050')
ftext(10, 490, '> 4.5 okt.', '#a0a0a0')
ftext(10, 500, '> 2.5 okt.', '#d0d0d0')
ftext(10, 511, '> 0.1 okt.', 'white', bbox=dict(facecolor='#9ed4ff', edgecolor='none', pad=0.6))
ftext(5, 526, 'Widzialność', '#ff8c00')
ftext(5, 543, 'Chmury:')
ftext(10, 556, 'wysokie', 'white', bbox=dict(facecolor='#9ed4ff', edgecolor='none', pad=0.6))
ftext(10, 569, 'średnie', '#a8a8a8')
ftext(10, 581, 'niskie', '#404040')
ftext(10, 593, 'bardzo niskie', '#202020')
ftext(5, 605, 'Mgła', '#ffb400')
ftext(5, 622, 'Czas uniwersalny (UTC)')
ftext(5, 647, '* powyżej poziomu morza', size=6.5, fontweight='bold')

lead('black', (70, 15), (140, 15), (157, 42))
lead(DKRED, (100, 44), (117, 44), (150, 82))
lead(RED, (90, 77), (116, 77))
lead(RED, (130, 77), (140, 80), (158, 101))
lead('#1010e0', (67, 99), (136, 99))
lead('#6a5acd', (93, 121), (128, 121), (137, 114))
lead(RED, (103, 138), (143, 138), (146, 145))
lead(ORG, (110, 151), (120, 151))
lead(ORG, (130, 151), (137, 160), (139, 166))
lead('black', (92, 167), (115, 167))
lead('black', (130, 167), (137, 170))
lead(GRN, (70, 179), (147, 179))
lead(GRN, (80, 190), (140, 190))
lead(BLU, (78, 202), (113, 202))
lead(BLU, (128, 203), (160, 171))
lead(BLU, (80, 212), (135, 212), (158, 178))
lead(RED, (95, 224), (122, 224), (140, 221))
lead('black', (53, 263), (128, 263), (136, 260))
lead(RED, (104, 334), (114, 334))
lead(RED, (130, 334), (133, 327), (138, 316))
lead(RED, (106, 349), (128, 349), (135.5, 348), (148.5, 342.7))
lead(NAVY, (92, 368), (136, 368))
lead(NAVY, (86, 409), (137, 409))
lead('#a01010', (97, 429), (135, 429), (190, 449))
lead('black', (58, 468), (135, 468), (192, 457))
lead('#505050', (60, 479), (143, 479), (143, 482))
lead('#a0a0a0', (60, 490), (130, 490), (138, 498))
lead('#d0d0d0', (60, 500), (130, 500), (138, 506))
lead('#a0d8ff', (56, 511), (135, 511), lw=2)
lead('#ff8c00', (67, 526), (128, 526), (165, 470))
lead('#a0d8ff', (52, 556), (188, 556), lw=2)
lead('#a8a8a8', (50, 569), (195, 569))
lead('#404040', (38, 581), (122, 581))
lead('#202020', (75, 593), (148, 593))
lead('#ffb400', (28, 605), (218, 605), (218, 600))
lead('black', (137, 622), (148, 622), (157, 611))

fig.savefig('out.png', dpi=100)
